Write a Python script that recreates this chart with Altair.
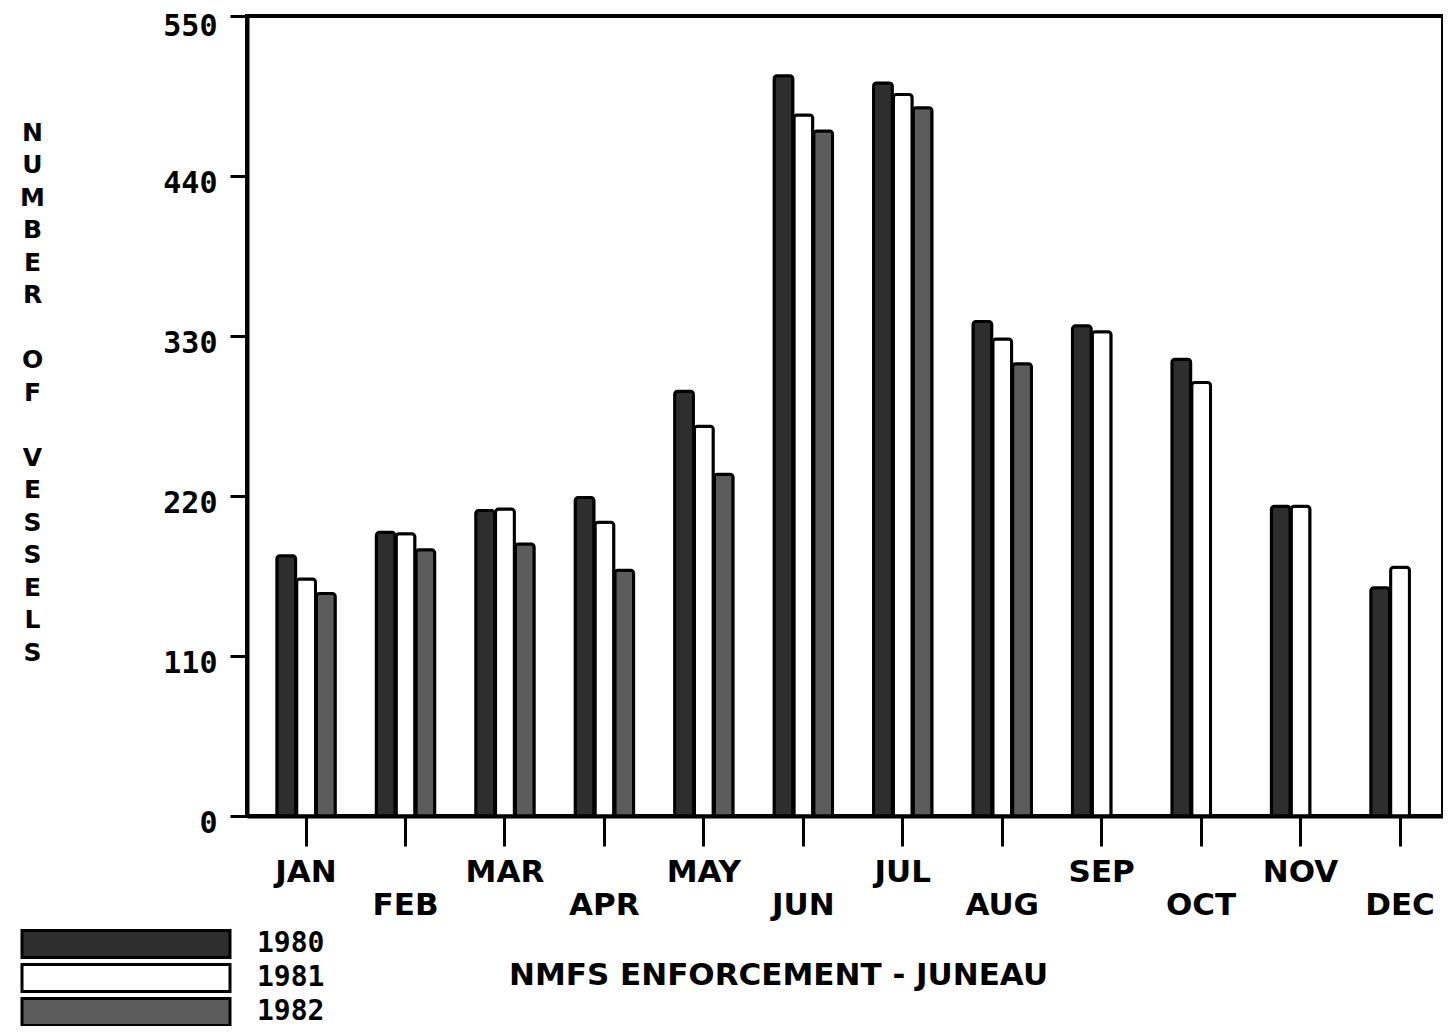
import altair as alt
import pandas as pd

months = ["JAN", "FEB", "MAR", "APR", "MAY", "JUN", "JUL", "AUG", "SEP", "OCT", "NOV", "DEC"]
years = ["1980", "1981", "1982"]
v1980 = [179, 195, 210, 219, 292, 509, 504, 340, 337, 314, 213, 157]
v1981 = [163, 194, 211, 202, 268, 482, 496, 328, 333, 298, 213, 171]
v1982 = [153, 183, 187, 169, 235, 471, 487, 311, None, None, None, None]
y_ticks = [0, 110, 220, 330, 440, 550]
x_title = "NMFS ENFORCEMENT - JUNEAU"
y_title_lines = [c if c != " " else "\u2800" for c in "NUMBER OF VESSELS"]
fills = ["#2e2e2e", "#ffffff", "#5c5c5c"]

rows = []
for yr, vals in zip(years, [v1980, v1981, v1982]):
    for m, v in zip(months, vals):
        if v is not None:
            rows.append({"month": m, "year": yr, "vessels": v})
df = pd.DataFrame(rows)

even_months = months[1::2]
label_pad = {
    "condition": {"test": f"indexof({even_months}, datum.value) >= 0", "value": 44},
    "value": 11,
}
y_label_offset = {
    "condition": {"test": f"datum.value == {y_ticks[-1]}", "value": 10},
    "value": 7,
}

W, H = 1196, 800

chart = (
    alt.Chart(df)
    .mark_bar(stroke="black", strokeWidth=3, cornerRadiusTopLeft=3, cornerRadiusTopRight=3)
    .encode(
        x=alt.X(
            "month:N",
            sort=months,
            scale=alt.Scale(paddingInner=0.4, paddingOuter=0.213, align=0.69),
            axis=alt.Axis(
                title=x_title,
                titleX=531,
                titleY=159,
                titleAlign="center",
                titleBaseline="middle",
                titleFont="DejaVu Sans",
                titleFontSize=31,
                titleFontWeight="bold",
                titleColor="black",
                labelAngle=0,
                labelFont="DejaVu Sans",
                labelFontSize=31,
                labelFontWeight="bold",
                labelColor="black",
                labelPadding=label_pad,
                labelBaseline="top",
                labelOverlap=False,
                domainWidth=4,
                domainColor="black",
                tickColor="black",
                tickSize=30,
                tickWidth=3,
                grid=False,
            ),
        ),
        xOffset=alt.XOffset("year:N", sort=years, scale=alt.Scale(paddingInner=0.05, paddingOuter=0.03)),
        y=alt.Y(
            "vessels:Q",
            scale=alt.Scale(domain=[0, 550], nice=False),
            axis=alt.Axis(
                values=y_ticks,
                title=y_title_lines,
                titleAngle=0,
                titleX=-215,
                titleY=104,
                titleAlign="center",
                titleBaseline="top",
                titleLineHeight=32.5,
                titleFont="DejaVu Sans",
                titleFontSize=25,
                titleFontWeight="bold",
                titleColor="black",
                labelFont="DejaVu Sans Mono",
                labelFontSize=30,
                labelFontWeight="bold",
                labelColor="black",
                labelPadding=13,
                labelOffset=y_label_offset,
                domainColor="black",
                domainWidth=4,
                tickColor="black",
                tickSize=17,
                tickWidth=3,
                grid=False,
            ),
        ),
        fill=alt.Fill(
            "year:N",
            sort=years,
            scale=alt.Scale(domain=years, range=fills),
            legend=alt.Legend(
                title=None,
                orient="none",
                legendX=-41,
                legendY=914,
                direction="vertical",
                symbolType="M-19.8,-1.35H1V1.35H-19.8Z",
                symbolSize=400,
                symbolStrokeColor="black",
                symbolStrokeWidth=3,
                symbolOpacity=1,
                labelFont="DejaVu Sans Mono",
                labelFontSize=28,
                labelFontWeight="bold",
                labelColor="black",
                labelOffset=23,
                rowPadding=-6,
                padding=0,
            ),
        ),
    )
    .properties(
        width=W,
        height=H,
        padding={"left": 239, "top": 8, "right": 0, "bottom": 210},
        autosize=alt.AutoSizeParams(type="none"),
        background="white",
    )
    .configure_view(stroke="black", strokeWidth=4)
)

chart.save("out.html", embed_options={"renderer": "svg", "actions": False})
